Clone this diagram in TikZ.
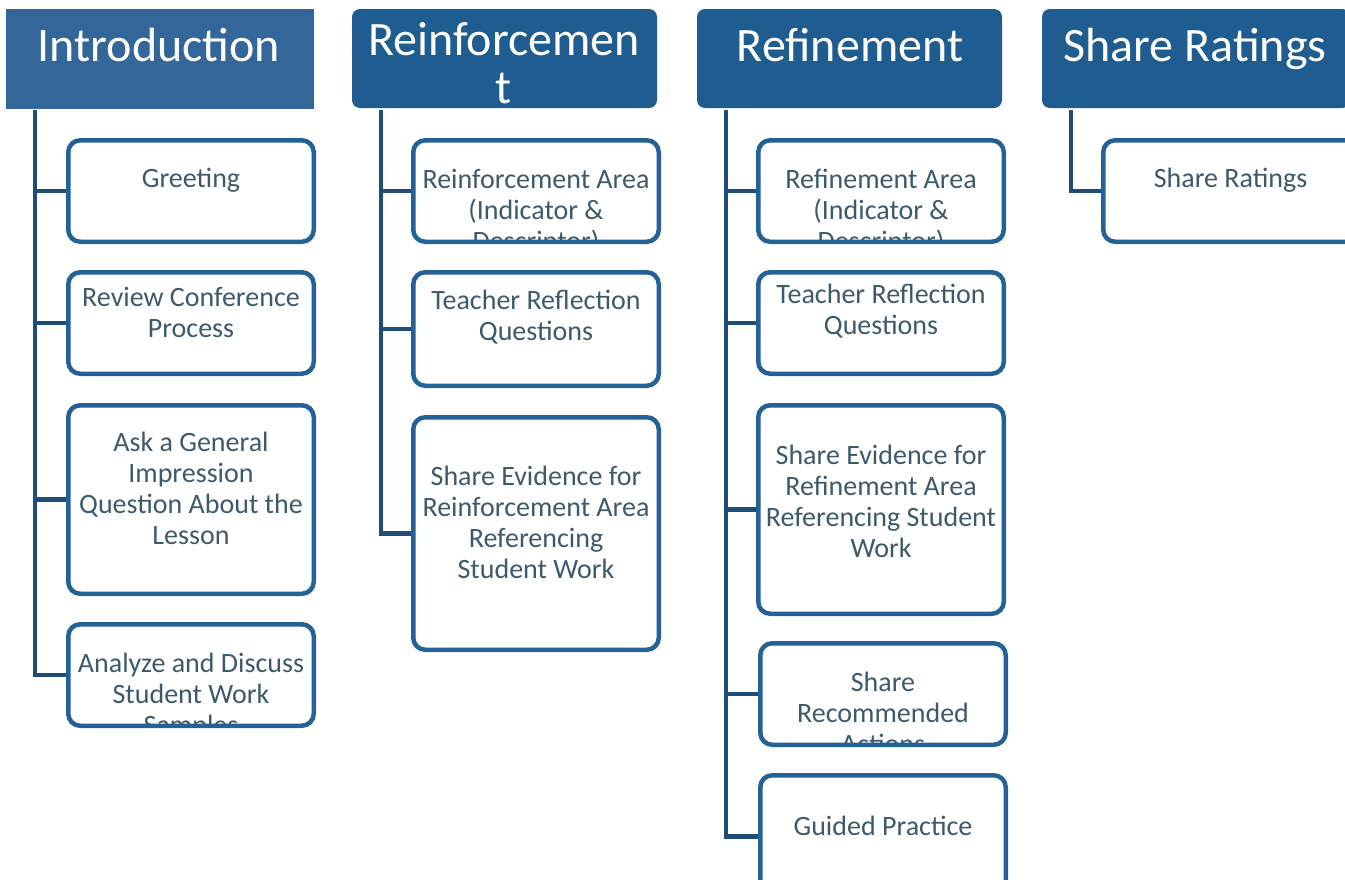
\documentclass[tikz,border=0pt]{standalone}
\usepackage{fontspec}
\setmainfont{Carlito}
\definecolor{hdrblue}{HTML}{1F5C8F}
\definecolor{introblue}{HTML}{336699}
\definecolor{boxblue}{HTML}{236196}
\definecolor{connblue}{HTML}{1F4D78}
\definecolor{txtgrey}{HTML}{3D5A6C}
\tikzset{
  hdr/.style={fill=hdrblue, draw=none, rounded corners=8pt, inner sep=0pt, outer sep=0pt},
  hdrtext/.style={text=white, font=\fontsize{48}{48}\selectfont, align=center, inner sep=0pt, anchor=base},
  child/.style={draw=boxblue, line width=4.5pt, rounded corners=12pt, inner sep=0pt},
  ctext/.style={text=txtgrey, font=\fontsize{28}{31}\selectfont, align=center, inner sep=0pt},
  conn/.style={draw=connblue, line width=4.5pt},
}
\newcommand\cbox[7]{%
  \begin{scope}
    \clip[rounded corners=10pt] ({#2+4.5},{#3+4.5}) rectangle ({#4-4.5},{#5-4.5});
    \node[ctext] (#1t) at ({(#2+#4)/2},#6) {#7};
  \end{scope}
  \node[child, minimum width={#4-#2-4.5}, minimum height={#5-#3-4.5}] (#1) at ({(#2+#4)/2},{(#3+#5)/2}) {};
}
\begin{document}
\begin{tikzpicture}[x=1pt,y=-1pt]
\clip (0,0) rectangle (1345,879);
\fill[white] (0,0) rectangle (1345,879);
% headers
\node[hdr, fill=introblue, rounded corners=0pt, minimum width=308, minimum height=100] (h1) at (160,59) {};
\node[hdrtext] (h1t) at (159,61) {Introduction};
\node[hdr, minimum width=305, minimum height=99] (h2) at (504.5,58.5) {};
\node[hdrtext] (h2t) at (504,103) {Reinforcemen\\t};
\node[hdr, minimum width=305, minimum height=99] (h3) at (849.5,58.5) {};
\node[hdrtext] (h3t) at (850,61) {Refinement};
\node[hdr, minimum width=308, minimum height=99] (h4) at (1196,58.5) {};
\node[hdrtext] (h4t) at (1195,61) {Share Ratings};
% column 1
\cbox{a1}{66}{138}{316}{244}{180}{Greeting}
\cbox{a2}{66}{270}{316}{376}{312}{Review Conference\\Process}
\cbox{a3}{66}{403}{316}{596}{488}{Ask a General\\Impression\\Question About the\\Lesson}
\cbox{a4}{66}{622}{316}{728}{696}{Analyze and Discuss\\Student Work\\Samples}
% column 2
\cbox{b1}{411}{138}{661}{244}{212}{Reinforcement Area\\(Indicator \&\\Descriptor)}
\cbox{b2}{411}{270}{661}{388}{317}{Teacher Reflection\\Questions}
\cbox{b3}{411}{415}{661}{652}{522}{Share Evidence for\\Reinforcement Area\\Referencing\\Student Work}
% column 3
\cbox{c1}{756}{138}{1006}{244}{212}{Refinement Area\\(Indicator \&\\Descriptor)}
\cbox{c2}{756}{270}{1006}{376}{311}{Teacher Reflection\\Questions}
\cbox{c3}{756}{403}{1006}{616}{501}{Share Evidence for\\Refinement Area\\Referencing Student\\Work}
\cbox{c4}{758}{641}{1008}{747}{713}{Share\\Recommended\\Actions}
\cbox{c5}{758}{773}{1008}{900}{826}{Guided Practice}
% column 4
\cbox{d1}{1101}{138}{1360}{244}{180}{Share Ratings}
% connectors
\coordinate (atop) at (35,110);
\coordinate (btop) at (381,110);
\coordinate (ctop) at (726,110);
\coordinate (dtop) at (1071,110);
\draw[conn] (atop) |- (a4.west);
\foreach \n in {a1,a2,a3} \draw[conn] (atop |- \n.west) -- (\n.west);
\draw[conn] (btop) |- (b3.west);
\foreach \n in {b1,b2} \draw[conn] (btop |- \n.west) -- (\n.west);
\draw[conn] (ctop) |- (c5.west);
\foreach \n in {c1,c2,c3,c4} \draw[conn] (ctop |- \n.west) -- (\n.west);
\draw[conn] (dtop) |- (d1.west);
\end{tikzpicture}
\end{document}
